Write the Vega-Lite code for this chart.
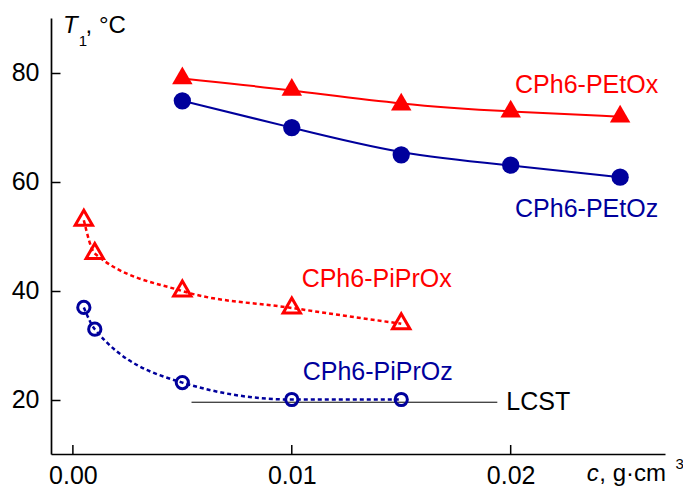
{
  "$schema": "https://vega.github.io/schema/vega-lite/v6.json",
  "width": 614,
  "height": 436,
  "autosize": {"type": "none"},
  "padding": {"left": 51, "top": 18, "right": 18, "bottom": 33},
  "background": "white",
  "config": {
    "view": {"stroke": null},
    "font": "Liberation Sans",
    "axis": {
      "domainColor": "black",
      "domainWidth": 1.7,
      "tickColor": "black",
      "tickWidth": 1.5,
      "labelColor": "black",
      "labelFont": "Liberation Sans",
      "labelFontSize": 25,
      "grid": false,
      "title": null
    }
  },
  "resolve": {"axis": {"x": "independent", "y": "independent"}},
  "datasets": {
    "points": [
      {"series": "CPh6-PEtOx", "c": 0.005, "T": 78.9},
      {"series": "CPh6-PEtOx", "c": 0.01, "T": 76.8},
      {"series": "CPh6-PEtOx", "c": 0.015, "T": 74.1},
      {"series": "CPh6-PEtOx", "c": 0.02, "T": 72.8},
      {"series": "CPh6-PEtOx", "c": 0.025, "T": 71.9},
      {"series": "CPh6-PEtOz", "c": 0.005, "T": 74.8},
      {"series": "CPh6-PEtOz", "c": 0.01, "T": 69.9},
      {"series": "CPh6-PEtOz", "c": 0.015, "T": 64.9},
      {"series": "CPh6-PEtOz", "c": 0.02, "T": 63.0},
      {"series": "CPh6-PEtOz", "c": 0.025, "T": 60.8},
      {"series": "CPh6-PiPrOx", "c": 0.0005, "T": 52.9},
      {"series": "CPh6-PiPrOx", "c": 0.001, "T": 46.8},
      {"series": "CPh6-PiPrOx", "c": 0.005, "T": 39.9},
      {"series": "CPh6-PiPrOx", "c": 0.01, "T": 36.8},
      {"series": "CPh6-PiPrOx", "c": 0.015, "T": 33.9},
      {"series": "CPh6-PiPrOz", "c": 0.0005, "T": 36.9},
      {"series": "CPh6-PiPrOz", "c": 0.001, "T": 32.9},
      {"series": "CPh6-PiPrOz", "c": 0.005, "T": 23.1},
      {"series": "CPh6-PiPrOz", "c": 0.01, "T": 20.0},
      {"series": "CPh6-PiPrOz", "c": 0.015, "T": 20.0}
    ],
    "lcst": [
      {"c1": 0.00542, "c2": 0.01939, "T": 19.5}
    ],
    "xticks": [
      {"c": 0},
      {"c": 0.01},
      {"c": 0.02}
    ],
    "labels": [
      {"series": "CPh6-PEtOx", "text": "CPh6-PEtOx", "c": 0.0202, "T": 76.3},
      {"series": "CPh6-PEtOz", "text": "CPh6-PEtOz", "c": 0.0202, "T": 53.5},
      {"series": "CPh6-PiPrOx", "text": "CPh6-PiPrOx", "c": 0.01045, "T": 40.6},
      {"series": "CPh6-PiPrOz", "text": "CPh6-PiPrOz", "c": 0.0105, "T": 23.6},
      {"series": "LCST", "text": "LCST", "c": 0.0198, "T": 18.0}
    ],
    "titleItalic": [
      {"text": "T", "c": -0.00045, "T": 87.3},
      {"text": "c", "c": 0.02348, "T": 5.0}
    ],
    "titleNormal": [
      {"text": ", °C", "c": 0.00058, "T": 87.3},
      {"text": ", g·cm", "c": 0.02405, "T": 5.0}
    ],
    "titleSmall": [
      {"text": "1", "c": 0.00027, "T": 84.9},
      {"text": "3", "c": 0.02753, "T": 7.2}
    ]
  },
  "layer": [
    {
      "data": {"name": "lcst"},
      "mark": {"type": "rule", "color": "black", "strokeWidth": 1},
      "encoding": {
        "x": {"field": "c1", "type": "quantitative",
          "scale": {"domain": [-0.001, 0.02705], "nice": false, "zero": false},
          "axis": null},
        "x2": {"field": "c2"},
        "y": {"field": "T", "type": "quantitative",
          "scale": {"domain": [10, 90], "nice": false, "zero": false},
          "axis": {"orient": "right", "offset": -614, "values": [20, 40, 60, 80], "domain": false, "labels": false, "ticks": true, "tickSize": 9}}
      }
    },
    {
      "data": {"name": "xticks"},
      "mark": {"type": "rule", "color": "black", "strokeWidth": 1.5},
      "encoding": {
        "x": {"field": "c", "type": "quantitative",
          "scale": {"domain": [-0.001, 0.02705], "nice": false, "zero": false},
          "axis": null},
        "y": {"datum": 10, "type": "quantitative",
          "scale": {"domain": [10, 90], "nice": false, "zero": false},
          "axis": null},
        "y2": {"datum": 11.65}
      }
    },
    {
      "data": {"name": "points"},
      "transform": [{"filter": "datum.series === 'CPh6-PEtOx' || datum.series === 'CPh6-PEtOz'"}],
      "mark": {"type": "line", "interpolate": "basis", "strokeWidth": 2},
      "encoding": {
        "x": {
          "field": "c",
          "type": "quantitative",
          "scale": {"domain": [-0.001, 0.02705], "nice": false, "zero": false},
          "axis": {"orient": "bottom", "values": [0, 0.01, 0.02], "format": ".2f", "labelPadding": 9, "labelFlush": false, "ticks": false}
        },
        "y": {
          "field": "T",
          "type": "quantitative",
          "scale": {"domain": [10, 90], "nice": false, "zero": false},
          "axis": {"orient": "left", "values": [20, 40, 60, 80], "labelPadding": 12, "ticks": false}
        },
        "color": {"field": "series", "type": "nominal", "legend": null,
          "scale": {"domain": ["CPh6-PEtOx", "CPh6-PEtOz", "CPh6-PiPrOx", "CPh6-PiPrOz", "LCST"], "range": ["#ff0000", "#00009c", "#ff0000", "#00009c", "#000000"]}}
      }
    },
    {
      "data": {"name": "points"},
      "transform": [{"filter": "datum.series === 'CPh6-PiPrOx' || datum.series === 'CPh6-PiPrOz'"}],
      "mark": {"type": "line", "interpolate": "monotone", "strokeWidth": 2.5, "strokeDash": [4, 3]},
      "encoding": {
        "x": {"field": "c", "type": "quantitative", "scale": {"domain": [-0.001, 0.02705], "nice": false, "zero": false}, "axis": null},
        "y": {"field": "T", "type": "quantitative", "scale": {"domain": [10, 90], "nice": false, "zero": false}, "axis": null},
        "color": {"field": "series", "type": "nominal", "legend": null}
      }
    },
    {
      "data": {"name": "points"},
      "transform": [{"filter": "datum.series === 'CPh6-PEtOx'"}],
      "mark": {"type": "point", "shape": "triangle-up", "filled": true, "size": 420, "opacity": 1, "color": "#ff0000", "yOffset": -3},
      "encoding": {
        "x": {"field": "c", "type": "quantitative", "scale": {"domain": [-0.001, 0.02705], "nice": false, "zero": false}, "axis": null},
        "y": {"field": "T", "type": "quantitative", "scale": {"domain": [10, 90], "nice": false, "zero": false}, "axis": null}
      }
    },
    {
      "data": {"name": "points"},
      "transform": [{"filter": "datum.series === 'CPh6-PEtOz'"}],
      "mark": {"type": "point", "shape": "circle", "filled": true, "size": 300, "opacity": 1, "color": "#00009c"},
      "encoding": {
        "x": {"field": "c", "type": "quantitative", "scale": {"domain": [-0.001, 0.02705], "nice": false, "zero": false}, "axis": null},
        "y": {"field": "T", "type": "quantitative", "scale": {"domain": [10, 90], "nice": false, "zero": false}, "axis": null}
      }
    },
    {
      "data": {"name": "points"},
      "transform": [{"filter": "datum.series === 'CPh6-PiPrOx'"}],
      "mark": {"type": "point", "shape": "triangle-up", "filled": false, "size": 300, "strokeWidth": 3, "opacity": 1, "color": "#ff0000", "yOffset": -2.5},
      "encoding": {
        "x": {"field": "c", "type": "quantitative", "scale": {"domain": [-0.001, 0.02705], "nice": false, "zero": false}, "axis": null},
        "y": {"field": "T", "type": "quantitative", "scale": {"domain": [10, 90], "nice": false, "zero": false}, "axis": null}
      }
    },
    {
      "data": {"name": "points"},
      "transform": [{"filter": "datum.series === 'CPh6-PiPrOz'"}],
      "mark": {"type": "point", "shape": "circle", "filled": false, "size": 150, "strokeWidth": 3, "opacity": 1, "color": "#00009c"},
      "encoding": {
        "x": {"field": "c", "type": "quantitative", "scale": {"domain": [-0.001, 0.02705], "nice": false, "zero": false}, "axis": null},
        "y": {"field": "T", "type": "quantitative", "scale": {"domain": [10, 90], "nice": false, "zero": false}, "axis": null}
      }
    },
    {
      "data": {"name": "labels"},
      "mark": {"type": "text", "align": "left", "baseline": "alphabetic", "fontSize": 25, "font": "Liberation Sans"},
      "encoding": {
        "x": {"field": "c", "type": "quantitative", "scale": {"domain": [-0.001, 0.02705], "nice": false, "zero": false}, "axis": null},
        "y": {"field": "T", "type": "quantitative", "scale": {"domain": [10, 90], "nice": false, "zero": false}, "axis": null},
        "text": {"field": "text"},
        "color": {"field": "series", "type": "nominal", "legend": null}
      }
    },
    {
      "data": {"name": "titleItalic"},
      "mark": {"type": "text", "align": "left", "baseline": "alphabetic", "fontSize": 24, "fontStyle": "italic", "color": "black", "font": "Liberation Sans"},
      "encoding": {
        "x": {"field": "c", "type": "quantitative", "scale": {"domain": [-0.001, 0.02705], "nice": false, "zero": false}, "axis": null},
        "y": {"field": "T", "type": "quantitative", "scale": {"domain": [10, 90], "nice": false, "zero": false}, "axis": null},
        "text": {"field": "text"}
      }
    },
    {
      "data": {"name": "titleNormal"},
      "mark": {"type": "text", "align": "left", "baseline": "alphabetic", "fontSize": 24, "color": "black", "font": "Liberation Sans"},
      "encoding": {
        "x": {"field": "c", "type": "quantitative", "scale": {"domain": [-0.001, 0.02705], "nice": false, "zero": false}, "axis": null},
        "y": {"field": "T", "type": "quantitative", "scale": {"domain": [10, 90], "nice": false, "zero": false}, "axis": null},
        "text": {"field": "text"}
      }
    },
    {
      "data": {"name": "titleSmall"},
      "mark": {"type": "text", "align": "left", "baseline": "alphabetic", "fontSize": 15, "color": "black", "font": "Liberation Sans"},
      "encoding": {
        "x": {"field": "c", "type": "quantitative", "scale": {"domain": [-0.001, 0.02705], "nice": false, "zero": false}, "axis": null},
        "y": {"field": "T", "type": "quantitative", "scale": {"domain": [10, 90], "nice": false, "zero": false}, "axis": null},
        "text": {"field": "text"}
      }
    }
  ]
}
